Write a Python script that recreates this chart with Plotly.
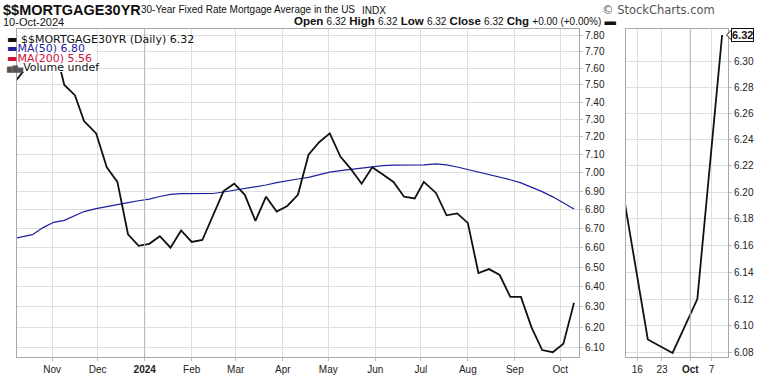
import numpy as np
import plotly.graph_objects as go

# ---------------- data ----------------
dates = ["2023-10-05", "2023-10-12", "2023-10-19", "2023-10-26", "2023-11-02", "2023-11-09",
         "2023-11-16", "2023-11-22", "2023-11-30", "2023-12-07", "2023-12-14", "2023-12-21",
         "2023-12-28", "2024-01-04", "2024-01-11", "2024-01-18", "2024-01-25", "2024-02-01",
         "2024-02-08", "2024-02-15", "2024-02-22", "2024-02-29", "2024-03-07", "2024-03-14",
         "2024-03-21", "2024-03-28", "2024-04-04", "2024-04-11", "2024-04-18", "2024-04-25",
         "2024-05-02", "2024-05-09", "2024-05-16", "2024-05-23", "2024-05-30", "2024-06-06",
         "2024-06-13", "2024-06-20", "2024-06-27", "2024-07-03", "2024-07-11", "2024-07-18",
         "2024-07-25", "2024-08-01", "2024-08-08", "2024-08-15", "2024-08-22", "2024-08-29",
         "2024-09-05", "2024-09-12", "2024-09-19", "2024-09-26", "2024-10-03", "2024-10-10"]

rate = [7.49, 7.57, 7.63, 7.79, 7.76, 7.50,
        7.44, 7.29, 7.22, 7.03, 6.95, 6.67,
        6.61, 6.62, 6.66, 6.60, 6.69, 6.63,
        6.64, 6.77, 6.90, 6.94, 6.88, 6.74,
        6.87, 6.79, 6.82, 6.88, 7.10, 7.17,
        7.22, 7.09, 7.02, 6.94, 7.03, 6.99,
        6.95, 6.87, 6.86, 6.95, 6.89, 6.77,
        6.78, 6.73, 6.47, 6.49, 6.46, 6.35,
        6.35, 6.20, 6.09, 6.08, 6.12, 6.32]

ma50 = [6.645, 6.655, 6.668, 6.705, 6.733, 6.743,
        6.770, 6.790, 6.806, 6.818, 6.828, 6.838,
        6.848, 6.857, 6.871, 6.882, 6.886, 6.887,
        6.887, 6.887, 6.895, 6.905, 6.913, 6.921,
        6.933, 6.946, 6.958, 6.966, 6.975, 6.990,
        7.004, 7.012, 7.019, 7.024, 7.033, 7.040,
        7.042, 7.042, 7.042, 7.044, 7.049, 7.044,
        7.032, 7.018, 7.006, 6.992, 6.977, 6.962,
        6.945, 6.922, 6.897, 6.869, 6.838, 6.804]

main_ticks = [round(6.1 + 0.1 * i, 2) for i in range(18)]
side_ticks = [round(6.08 + 0.02 * i, 2) for i in range(12)]

month_vals = ["2023-11-01", "2023-12-01", "2024-01-01", "2024-02-01", "2024-03-01", "2024-04-01",
              "2024-05-01", "2024-06-01", "2024-07-01", "2024-08-01", "2024-09-01", "2024-10-01"]
month_text = ["Nov", "Dec", "<b>2024</b>", "Feb", "Mar", "Apr", "May", "Jun", "Jul", "Aug", "Sep", "Oct"]

side_vals = ["2024-09-16", "2024-09-23", "2024-10-01", "2024-10-07"]
side_text = ["16", "23", "<b>Oct</b>", "7"]

# ---------------- layout helpers ----------------
W, H = 770, 376
def fx(p):
    return p / W
def fy(p):
    return 1 - p / H

ydom = [fy(357), fy(29)]
GRID = "#dedede"
BORDER = "#a8a8a8"
TICKFONT = dict(family="Liberation Sans, Arial, sans-serif", size=10, color="#222")

fig = go.Figure()
fig.add_trace(go.Scatter(x=dates, y=ma50, mode="lines", line=dict(color="#1f1f9e", width=1.2),
                         xaxis="x", yaxis="y", hoverinfo="skip"))
fig.add_trace(go.Scatter(x=dates, y=rate, mode="lines", line=dict(color="#111", width=1.8),
                         xaxis="x", yaxis="y"))
fig.add_trace(go.Scatter(x=dates, y=rate, mode="lines", line=dict(color="#111", width=1.8),
                         xaxis="x2", yaxis="y2"))

axis_common = dict(showgrid=True, gridcolor=GRID, gridwidth=1, showline=True, linecolor=BORDER,
                   linewidth=1, mirror=True, zeroline=False, tickfont=TICKFONT,
                   ticks="outside", ticklen=3, tickcolor="#bbb")

fig.update_layout(
    width=W, height=H, margin=dict(l=0, r=0, t=0, b=0),
    paper_bgcolor="white", plot_bgcolor="white", showlegend=False,
    xaxis=dict(domain=[fx(17), fx(579)], type="date", anchor="y",
               range=["2023-10-08 19:40", "2024-10-13 07:00"],
               tickvals=month_vals, ticktext=month_text, **axis_common),
    yaxis=dict(domain=ydom, type="log", anchor="x", side="right",
               range=[np.log10(6.057), np.log10(7.837)],
               tickvals=main_ticks, ticktext=[f"{v:.2f}" for v in main_ticks], **axis_common),
    xaxis2=dict(domain=[fx(626), fx(728)], type="date", anchor="y2",
                range=["2024-09-12 20:00", "2024-10-11 16:00"],
                tickvals=side_vals, ticktext=side_text, **axis_common),
    yaxis2=dict(domain=ydom, type="log", anchor="x2", side="right",
                range=[np.log10(6.077), np.log10(6.3246)],
                tickvals=side_ticks, ticktext=[f"{v:.2f}" for v in side_ticks], **axis_common),
)

# darker year / month separators
fig.add_shape(type="line", xref="x", yref="y domain", x0="2024-01-01", x1="2024-01-01", y0=0, y1=1,
              line=dict(color="#b5b5b5", width=1))
fig.add_shape(type="line", xref="x2", yref="y2 domain", x0="2024-10-01", x1="2024-10-01", y0=0, y1=1,
              line=dict(color="#b5b5b5", width=1))

# white backing behind the in-chart legend
fig.add_shape(type="rect", xref="paper", yref="paper", x0=fx(18), x1=fx(96), y0=fy(72), y1=fy(30),
              fillcolor="white", line=dict(width=0), layer="above")

SANS = "Liberation Sans, Arial, sans-serif"
VERD = "DejaVu Sans, Verdana, sans-serif"

def ann(x, y, text, font, xanchor="left", yanchor="middle", **kw):
    fig.add_annotation(xref="paper", yref="paper", x=fx(x), y=fy(y), text=text, showarrow=False,
                       xanchor=xanchor, yanchor=yanchor, font=font, **kw)

# header (title + date as one two-line block; base size sets the line pitch)
ann(1, 15.5, "<span style='font-size:14.5px'><b>$$MORTGAGE30YR</b></span><br>"
             "<span style='font-size:11px'>10-Oct-2024</span>",
    dict(family=SANS, size=8.5, color="#111"), align="left")
ann(139, 10, "30-Year Fixed Rate Mortgage Average in the US", dict(family=SANS, size=10, color="#111"))
ann(360, 10.5, "INDX", dict(family=SANS, size=10, color="#111"))
ann(717, 10, "© StockCharts.com", dict(family=VERD, size=11.5, color="#555"), xanchor="right")
V = "<span style='font-weight:normal;font-size:10px'>%s</span>"
ohlc = ("<b>Open</b> " + V % "6.32" + " <b>High</b> " + V % "6.32" + " <b>Low</b> " + V % "6.32" +
        " <b>Close</b> " + V % "6.32" + " <b>Chg</b> " + V % "+0.00 (+0.00%)" + " <b>▬</b>")
ann(618, 21, ohlc, dict(family=SANS, size=11.5, color="#111"), xanchor="right")

# in-chart legend as one block (base size 7.2 -> ~9.4px line pitch)
S = "<span style='font-size:11px%s'>%s</span>"
legend_text = "<br>".join([
    S % ("", "▬ $$MORTGAGE30YR (Daily) 6.32"),
    S % (";color:#1f1f9e", "▬MA(50) 6.80"),
    S % (";color:#d0103a", "▬MA(200) 5.56"),
    "<span style='color:#555;font-size:7px'>▆▇▅</span>" + S % ("", "Volume undef"),
])
ann(4, 53, legend_text, dict(family=VERD, size=7.2, color="#111"), align="left")

# last value tag on right panel
fig.add_annotation(xref="paper", yref="y2", x=fx(731), y=np.log10(rate[-1]), text=f"<b>{rate[-1]:.2f}</b>",
                   showarrow=False, xanchor="left", yanchor="middle",
                   font=dict(family=SANS, size=11, color="#111"),
                   bgcolor="white", bordercolor="#111", borderwidth=1, borderpad=0)
y2lo, y2hi = np.log10(6.077), np.log10(6.3246)
tagy = ydom[0] + (np.log10(rate[-1]) - y2lo) / (y2hi - y2lo) * (ydom[1] - ydom[0])
fig.add_shape(type="path", xref="paper", yref="paper",
              path=f"M {fx(726.5)},{tagy} L {fx(731.5)},{tagy + 5/H} L {fx(731.5)},{tagy - 5/H} Z",
              fillcolor="white", line=dict(color="#111", width=1))

fig.write_html("out.html", config={"displayModeBar": False},
               post_script="document.body.style.margin='0';")
